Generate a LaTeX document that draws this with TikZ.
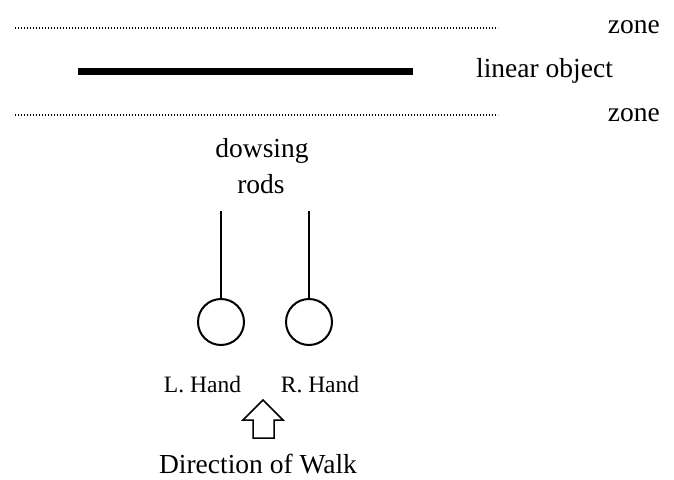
\documentclass[tikz,border=0pt]{standalone}
\usepackage{fontspec}
\setmainfont{Liberation Serif}
\begin{document}
\begin{tikzpicture}[x=1pt,y=-1pt,
  lbl/.style={inner sep=0pt,anchor=base,font=\fontsize{27.5}{30}\selectfont},
  small/.style={inner sep=0pt,anchor=base,font=\fontsize{23.5}{26}\selectfont},
  zoneline/.style={line width=1.1pt,dash pattern=on 1.1pt off 1.9pt},
  rod/.style={line width=1.5pt},
  hand/.style={circle,draw,line width=2pt,minimum size=46pt,inner sep=0pt},
  walkarrow/.style={draw,line width=1.5pt,line join=miter}]
\useasboundingbox (0,0) rectangle (674,479);
% zones and linear object
\coordinate (z1a) at (15,28);
\coordinate (z1b) at (498,28);
\coordinate (z2a) at (15,115);
\coordinate (z2b) at (498,115);
\draw[zoneline] (z1a) -- (z1b);
\draw[zoneline] (z2a) -- (z2b);
\coordinate (loa) at (78,71.5);
\coordinate (lob) at (413,71.5);
\draw[line width=6.5pt] (loa) -- (lob);
\node[lbl,anchor=base east] (zone1) at (660,33) {zone};
\node[lbl,anchor=base east] (zone2) at (660,121) {zone};
\node[lbl,anchor=base west] (lin) at (476,77) {linear object};
% dowsing rods
\node[lbl] (dow) at (262,157) {dowsing};
\node[lbl] (rods) at (261,193) {rods};
\node[hand] (lh) at (221,322) {};
\node[hand] (rh) at (309,322) {};
\coordinate (lt) at (221,211);
\coordinate (rt) at (309,211);
\draw[rod] (lt) -- (lh.north);
\draw[rod] (rt) -- (rh.north);
\node[small] (lhl) at (202.5,392) {L. Hand};
\node[small] (rhl) at (320,392) {R. Hand};
% direction arrow
\draw[walkarrow] (263,400) -- (283,420) -- (274,420) -- (274,438) -- (253,438) -- (253,420) -- (243,420) -- cycle;
\node[lbl] (walk) at (258,473) {Direction of Walk};
\end{tikzpicture}
\end{document}
